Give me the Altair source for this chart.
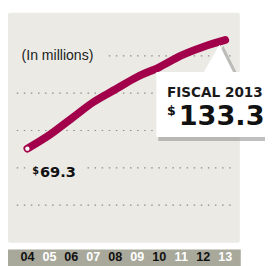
import altair as alt
import pandas as pd

years = [2004, 2005, 2006, 2007, 2008, 2009, 2010, 2011, 2012, 2013]
values = [69.3, 77.3, 87.0, 96.7, 104.2, 111.6, 117.3, 124.2, 129.3, 133.3]
year_labels = ["04", "05", "06", "07", "08", "09", "10", "11", "12", "13"]
grid_values = [36, 58, 80, 102, 124]
unit_label = "(In millions)"

W, H = 265, 258
PANEL = "#ebeae5"
BAND = "#a8a89b"
LINE = "#a3004b"

df = pd.DataFrame({"year": years, "value": values})
lab_df = pd.DataFrame({
    "year": years,
    "lab": year_labels,
    "col": ["#111111" if i % 2 == 0 else "#ffffff" for i in range(len(years))],
})
grid_df = pd.DataFrame({"v": grid_values})
first_df = df.iloc[[0]].assign(txt=lambda d: d["value"].map(lambda v: f"{v:.1f}"))
last_df = df.iloc[[-1]].assign(
    txt=lambda d: d["value"].map(lambda v: f"{v:.1f}"),
    title=lambda d: d["year"].map(lambda y: f"FISCAL {y}"),
)
one = pd.DataFrame({"a": [0]})

xs = alt.Scale(domain=[2003.1176, 2014.809], nice=False, zero=False)
ys = alt.Scale(domain=[2.443, 149.871], nice=False, zero=False)
X = alt.X("year:Q", scale=xs, axis=None)
Y = alt.Y("value:Q", scale=ys, axis=None)

panel = alt.Chart(one).mark_rect(color=PANEL, cornerRadius=2).encode(
    x=alt.value(0), x2=alt.value(239), y=alt.value(1), y2=alt.value(238))

grid = alt.Chart(grid_df).mark_rule(color="#8a8a8a", strokeDash=[1.5, 5.8], strokeWidth=1.2).encode(
    y=alt.Y("v:Q", scale=ys, axis=None), x=alt.value(9), x2=alt.value(233))

bg1 = alt.Chart(one).mark_rect(color=PANEL).encode(
    x=alt.value(8), x2=alt.value(103), y=alt.value(37), y2=alt.value(53))
bg2 = alt.Chart(one).mark_rect(color=PANEL).encode(
    x=alt.value(18), x2=alt.value(78), y=alt.value(155), y2=alt.value(167))

unit = alt.Chart(pd.DataFrame({"v": [grid_values[-1]], "t": [unit_label]})).mark_text(
    align="left", baseline="middle", font="Liberation Sans",
    fontSize=14.5, color="#222222").encode(
    x=alt.value(14), y=alt.Y("v:Q", scale=ys, axis=None), text="t:N")

line = alt.Chart(df).mark_line(color=LINE, strokeWidth=8, strokeCap="round",
                               strokeJoin="round", interpolate="monotone").encode(x=X, y=Y)
dot = alt.Chart(first_df).mark_point(filled=True, color="white", opacity=1, size=20).encode(x=X, y=Y)

lab_dollar1 = alt.Chart(first_df).mark_text(
    text="$", align="left", baseline="alphabetic", dx=5, dy=26, font="DejaVu Sans",
    fontWeight="bold", fontSize=10, color="#111").encode(x=X, y=Y)
lab_val1 = alt.Chart(first_df).mark_text(
    align="left", baseline="alphabetic", dx=13, dy=29, font="DejaVu Sans",
    fontWeight="bold", fontSize=15, color="#111").encode(x=X, y=Y, text="txt:N")

shadow_box = alt.Chart(one).mark_rect(color="#8c8c8c", opacity=0.55).encode(
    x=alt.value(155), x2=alt.value(268), y=alt.value(65), y2=alt.value(133))
shadow_tri = alt.Chart(one).mark_point(
    shape="M-1,0.933L0.067,-0.933L1,0.933Z", size=900, filled=True,
    color="#8c8c8c", opacity=0.5).encode(x=alt.value(221), y=alt.value(49))
box = alt.Chart(one).mark_rect(color="white").encode(
    x=alt.value(153), x2=alt.value(268), y=alt.value(62), y2=alt.value(129))
tri = alt.Chart(one).mark_point(
    shape="M-1,0.933L0.067,-0.933L1,0.933Z", size=900, filled=True,
    color="white", opacity=1).encode(x=alt.value(217), y=alt.value(48))

title = alt.Chart(last_df).mark_text(
    align="left", baseline="alphabetic", dx=-60, dy=59, font="DejaVu Sans",
    fontWeight="bold", fontSize=14, color="#1a1a1a").encode(x=X, y=Y, text="title:N")
dollar2 = alt.Chart(last_df).mark_text(
    text="$", align="left", baseline="top", dx=-60, dy=67, font="DejaVu Sans",
    fontWeight="bold", fontSize=13, color="#111").encode(x=X, y=Y)
val2 = alt.Chart(last_df).mark_text(
    align="left", baseline="alphabetic", dx=-48, dy=88, font="DejaVu Sans",
    fontWeight="bold", fontSize=28, color="#111").encode(x=X, y=Y, text="txt:N")

band = alt.Chart(one).mark_rect(color=BAND).encode(
    x=alt.value(0), x2=alt.value(240), y=alt.value(245), y2=alt.value(262))
band_labels = alt.Chart(lab_df).mark_text(
    baseline="alphabetic", align="center", font="Liberation Sans",
    fontWeight="bold", fontSize=13).encode(
    x=X, y=alt.value(257), text="lab:N", color=alt.Color("col:N", scale=None))

chart = alt.layer(
    panel, grid, bg1, bg2, unit, line, dot, lab_dollar1, lab_val1,
    shadow_box, shadow_tri, box, tri, title, dollar2, val2, band, band_labels,
).properties(width=W, height=H, padding=0, autosize=alt.AutoSizeParams(type="none")
).configure_view(stroke=None)

chart.save("out.html", embed_options={"renderer": "svg", "actions": False})
